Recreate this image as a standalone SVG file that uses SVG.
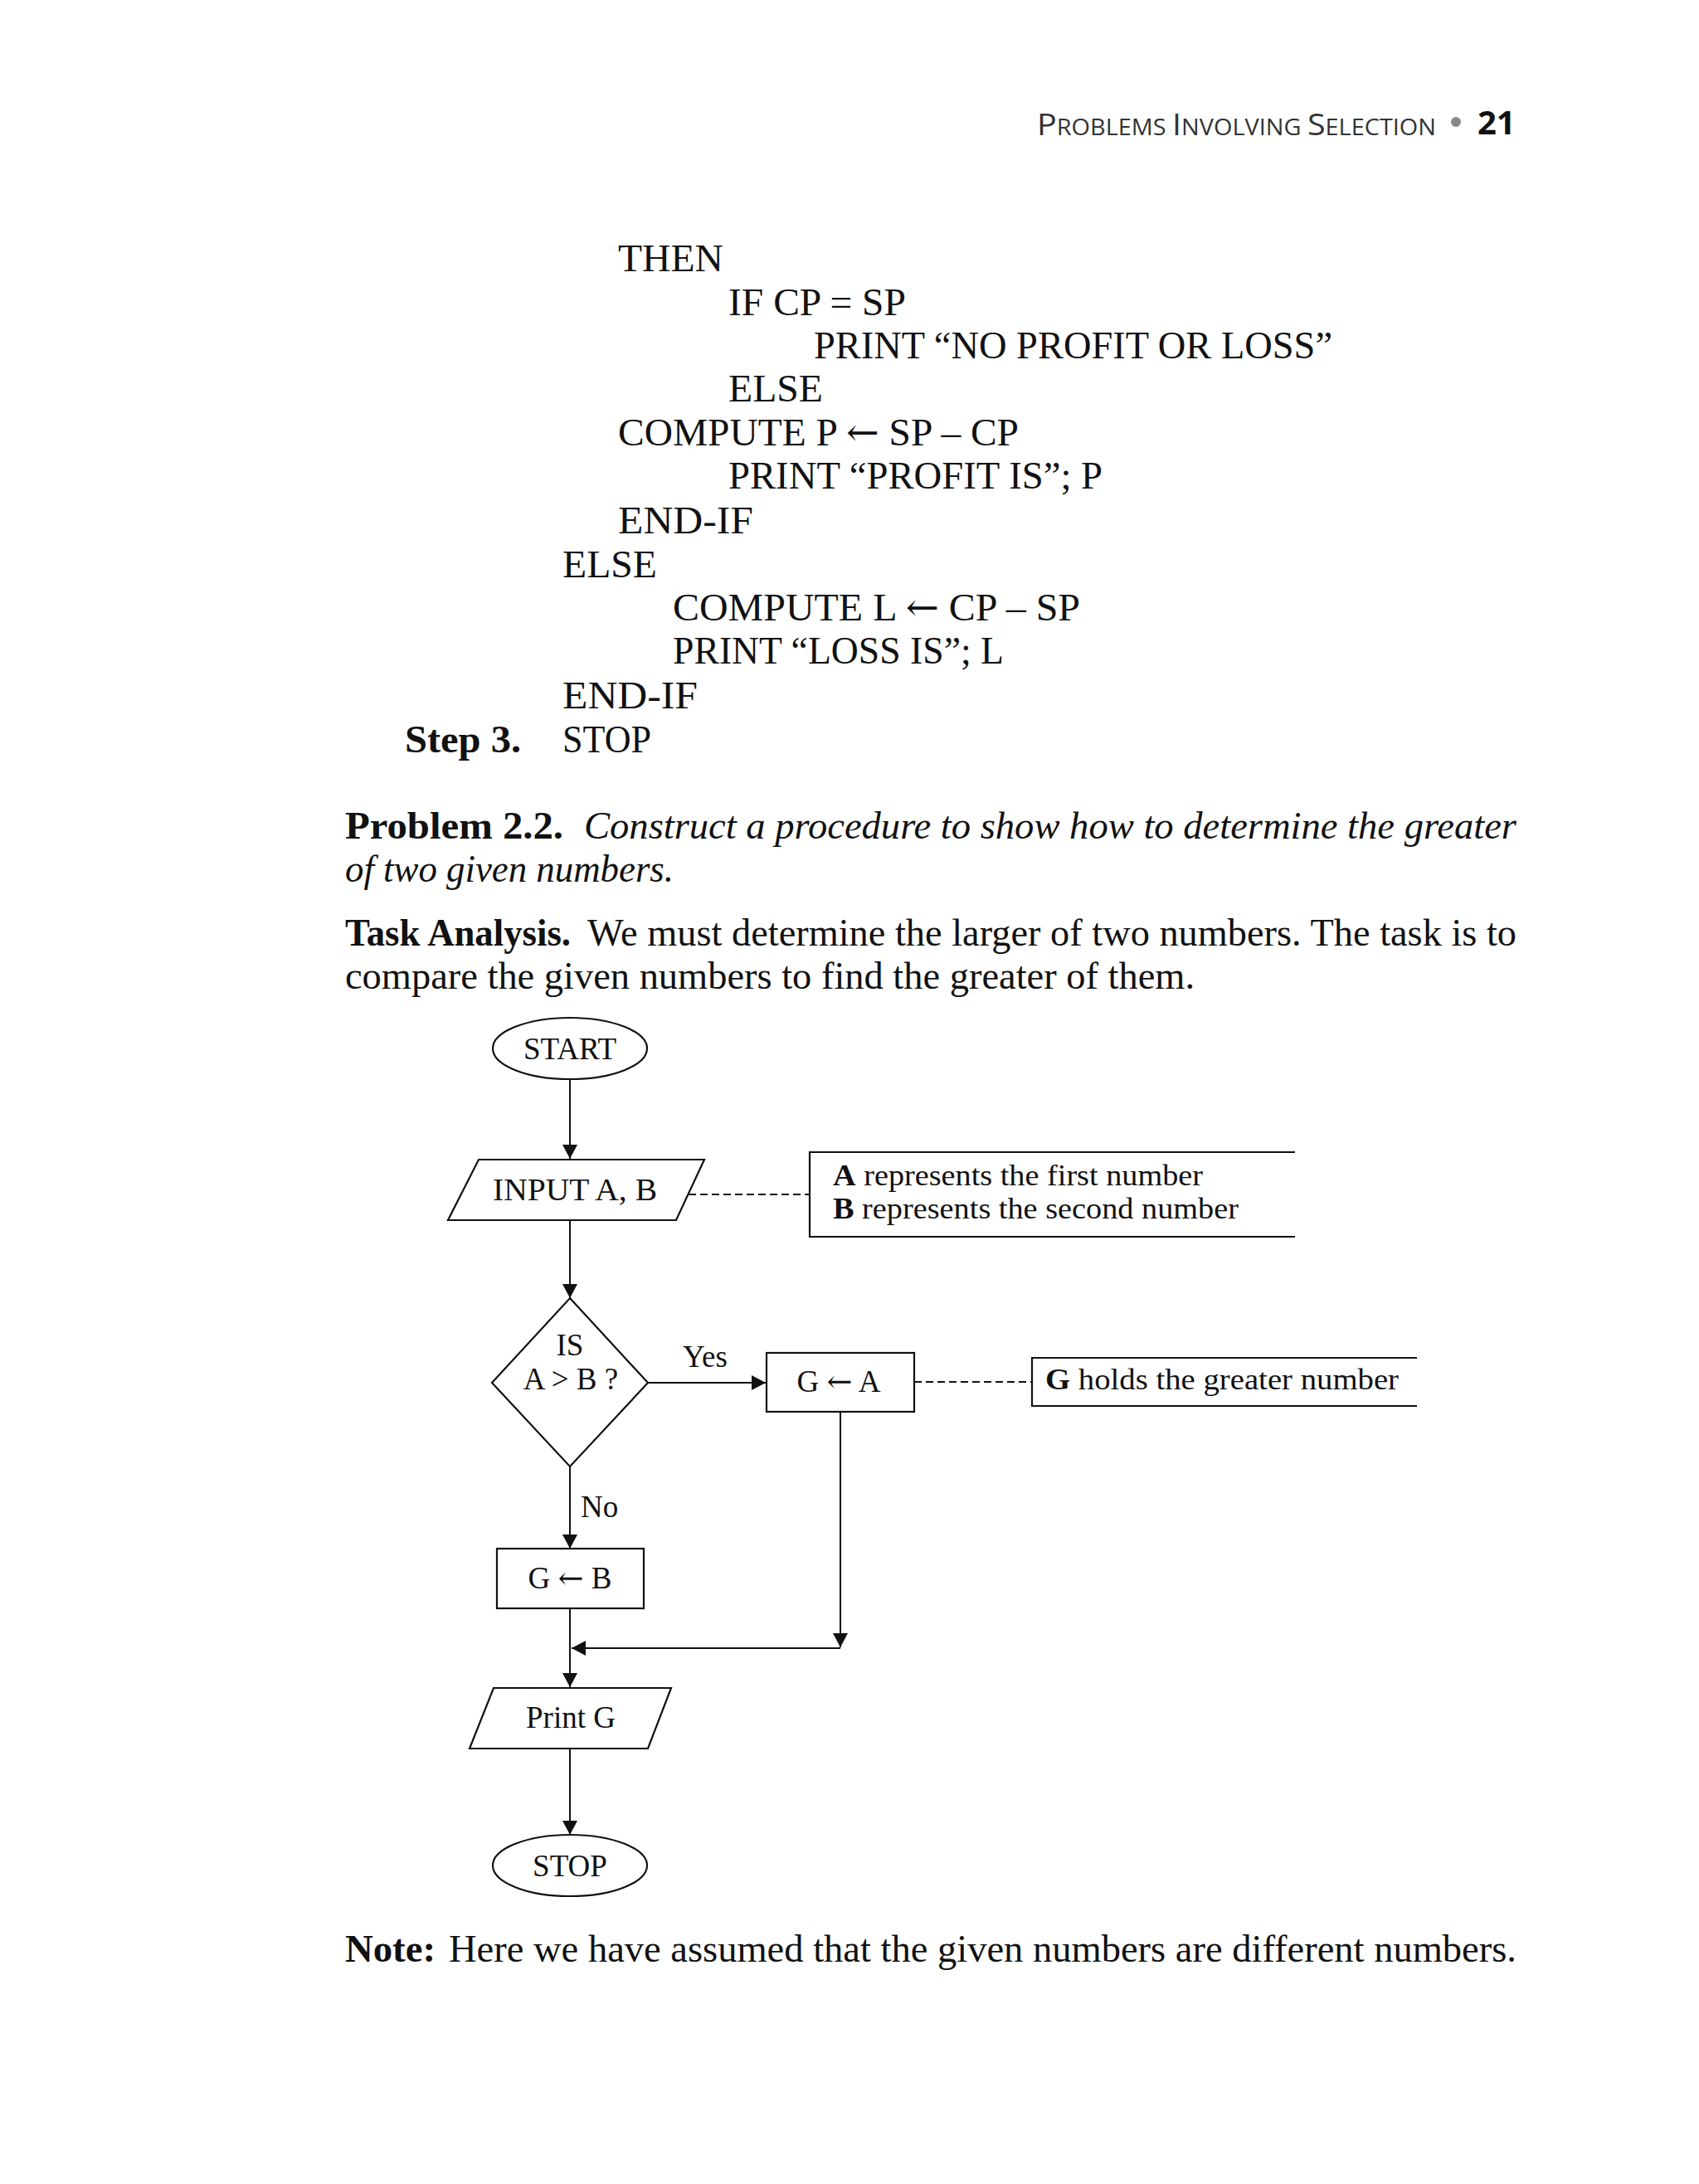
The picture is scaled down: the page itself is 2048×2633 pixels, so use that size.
<svg xmlns="http://www.w3.org/2000/svg" width="2048" height="2633" viewBox="0 0 2048 2633">
<style>
.t{font-family:"Liberation Serif","Times New Roman",serif;fill:#111}
.code{font-size:46px}
.body{font-size:47px}
.fl{font-size:37px}
.ann{font-size:36px}
.b{font-weight:bold}
.i{font-style:italic}
.ar{font-family:"DejaVu Serif","DejaVu Sans",serif}
.shape{fill:none;stroke:#111;stroke-width:2.2}
.conn{fill:none;stroke:#111;stroke-width:2}
.dash{fill:none;stroke:#111;stroke-width:2;stroke-dasharray:9,5}
.hdr{font-family:"Open Sans","Liberation Sans",sans-serif;fill:#333}
</style>
<defs>
<marker id="ah" markerWidth="17" markerHeight="18" refX="17" refY="9" orient="auto" markerUnits="userSpaceOnUse">
<path d="M0,0 L17,9 L0,18 z" fill="#111"/>
</marker>
</defs>
<rect width="2048" height="2633" fill="#fff"/>

<g id="header">
<text class="hdr" x="1250" y="163" textLength="481" lengthAdjust="spacingAndGlyphs"><tspan font-size="37">P</tspan><tspan font-size="27">ROBLEMS </tspan><tspan font-size="37">I</tspan><tspan font-size="27">NVOLVING </tspan><tspan font-size="37">S</tspan><tspan font-size="27">ELECTION</tspan></text>
<circle cx="1755" cy="147" r="6" fill="#888"/>
<text x="1781" y="162" font-family="Open Sans,Liberation Sans,sans-serif" font-weight="bold" font-size="40" fill="#111">21</text>
</g>

<g id="pseudocode">
<text class="t code" x="745" y="327" textLength="127" lengthAdjust="spacingAndGlyphs">THEN</text>
<text class="t code" x="878" y="380" textLength="214" lengthAdjust="spacingAndGlyphs">IF CP = SP</text>
<text class="t code" x="981" y="432" textLength="625" lengthAdjust="spacingAndGlyphs">PRINT “NO PROFIT OR LOSS”</text>
<text class="t code" x="878" y="484" textLength="114" lengthAdjust="spacingAndGlyphs">ELSE</text>
<text class="t code" x="745" y="537" textLength="483" lengthAdjust="spacingAndGlyphs">COMPUTE P <tspan class="ar">←</tspan> SP – CP</text>
<text class="t code" x="878" y="589" textLength="451" lengthAdjust="spacingAndGlyphs">PRINT “PROFIT IS”; P</text>
<text class="t code" x="745" y="643" textLength="163" lengthAdjust="spacingAndGlyphs">END-IF</text>
<text class="t code" x="678" y="696" textLength="114" lengthAdjust="spacingAndGlyphs">ELSE</text>
<text class="t code" x="811" y="748" textLength="491" lengthAdjust="spacingAndGlyphs">COMPUTE L <tspan class="ar">←</tspan> CP – SP</text>
<text class="t code" x="811" y="800" textLength="399" lengthAdjust="spacingAndGlyphs">PRINT “LOSS IS”; L</text>
<text class="t code" x="678" y="854" textLength="163" lengthAdjust="spacingAndGlyphs">END-IF</text>
<text class="t code b" x="488" y="907" textLength="140" lengthAdjust="spacingAndGlyphs">Step 3.</text>
<text class="t code" x="678" y="907" textLength="107" lengthAdjust="spacingAndGlyphs">STOP</text>
</g>

<g id="problem">
<text class="t body b" x="416" y="1011" textLength="263" lengthAdjust="spacingAndGlyphs">Problem 2.2.</text>
<text class="t body i" x="704" y="1011" textLength="1124" lengthAdjust="spacingAndGlyphs">Construct a procedure to show how to determine the greater</text>
<text class="t body i" x="416" y="1063" textLength="396" lengthAdjust="spacingAndGlyphs">of two given numbers.</text>
<text class="t body b" x="416" y="1140" textLength="272" lengthAdjust="spacingAndGlyphs">Task Analysis.</text>
<text class="t body" x="708" y="1140" textLength="1120" lengthAdjust="spacingAndGlyphs">We must determine the larger of two numbers. The task is to</text>
<text class="t body" x="416" y="1192" textLength="1024" lengthAdjust="spacingAndGlyphs">compare the given numbers to find the greater of them.</text>
</g>

<g id="connectors">
<line class="conn" x1="687" y1="1302" x2="687" y2="1397" marker-end="url(#ah)"/>
<line class="conn" x1="687" y1="1471" x2="687" y2="1565" marker-end="url(#ah)"/>
<line class="conn" x1="781" y1="1667" x2="923" y2="1667" marker-end="url(#ah)"/>
<line class="conn" x1="687" y1="1768" x2="687" y2="1867" marker-end="url(#ah)"/>
<line class="conn" x1="1013" y1="1702" x2="1013" y2="1986" marker-end="url(#ah)"/>
<line class="conn" x1="1013" y1="1987" x2="689" y2="1987" marker-end="url(#ah)"/>
<line class="conn" x1="687" y1="1939" x2="687" y2="2034" marker-end="url(#ah)"/>
<line class="conn" x1="687" y1="2108" x2="687" y2="2212" marker-end="url(#ah)"/>
<line class="dash" x1="830" y1="1440" x2="976" y2="1440"/>
<line class="dash" x1="1102" y1="1666" x2="1244" y2="1666"/>
</g>

<g id="start">
<ellipse class="shape" cx="687" cy="1264" rx="93" ry="37"/>
<text class="t fl" x="687" y="1277" text-anchor="middle">START</text>
</g>

<g id="input">
<polygon class="shape" points="577,1398 849,1398 815,1471 540,1471"/>
<text class="t fl" x="693" y="1447" text-anchor="middle" textLength="198" lengthAdjust="spacingAndGlyphs">INPUT A, B</text>
</g>

<g id="note-ab">
<path class="shape" d="M1561,1389 H976 V1491 H1561"/>
<text class="t ann" x="1004" y="1429" textLength="446" lengthAdjust="spacingAndGlyphs"><tspan class="b">A</tspan> represents the first number</text>
<text class="t ann" x="1004" y="1469" textLength="489" lengthAdjust="spacingAndGlyphs"><tspan class="b">B</tspan> represents the second number</text>
</g>

<g id="decision">
<polygon class="shape" points="687,1565 781,1667 687,1768 593,1667"/>
<text class="t fl" x="687" y="1634" text-anchor="middle">IS</text>
<text class="t fl" x="688" y="1675" text-anchor="middle">A &gt; B ?</text>
</g>

<g id="labels">
<text class="t fl" x="823" y="1648">Yes</text>
<text class="t fl" x="700" y="1829">No</text>
</g>

<g id="assign-a">
<rect class="shape" x="924" y="1631" width="178" height="71"/>
<text class="t fl" x="1011" y="1678" text-anchor="middle">G <tspan class="ar">←</tspan> A</text>
</g>

<g id="note-g">
<path class="shape" d="M1708,1637 H1244 V1695 H1708"/>
<text class="t ann" x="1260" y="1675" textLength="426" lengthAdjust="spacingAndGlyphs"><tspan class="b">G</tspan> holds the greater number</text>
</g>

<g id="assign-b">
<rect class="shape" x="599" y="1867" width="177" height="72"/>
<text class="t fl" x="687" y="1915" text-anchor="middle">G <tspan class="ar">←</tspan> B</text>
</g>

<g id="print">
<polygon class="shape" points="595,2035 809,2035 781,2108 566,2108"/>
<text class="t fl" x="688" y="2083" text-anchor="middle">Print G</text>
</g>

<g id="stop">
<ellipse class="shape" cx="687" cy="2249" rx="93" ry="37"/>
<text class="t fl" x="687" y="2262" text-anchor="middle">STOP</text>
</g>

<g id="note">
<text class="t body b" x="416" y="2365" textLength="109" lengthAdjust="spacingAndGlyphs">Note:</text>
<text class="t body" x="541" y="2365" textLength="1287" lengthAdjust="spacingAndGlyphs">Here we have assumed that the given numbers are different numbers.</text>
</g>
</svg>
